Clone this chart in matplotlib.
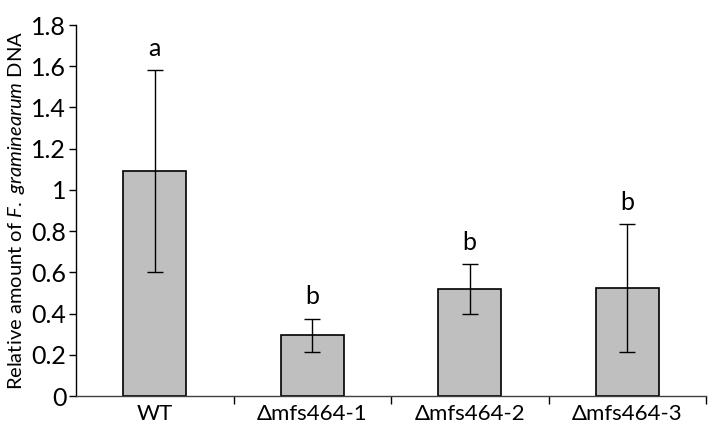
import matplotlib
matplotlib.use('Agg')
import matplotlib.pyplot as plt
import numpy as np

# values
strains = ['WT', '\u0394mfs464-1', '\u0394mfs464-2', '\u0394mfs464-3']
dna_amount = [1.09, 0.295, 0.52, 0.525]
dna_err = [0.49, 0.08, 0.12, 0.31]
letters = ['a', 'b', 'b', 'b']
yticks = [0, 0.2, 0.4, 0.6, 0.8, 1, 1.2, 1.4, 1.6, 1.8]
ytick_labels = ['0', '0.2', '0.4', '0.6', '0.8', '1', '1.2', '1.4', '1.6', '1.8']

plt.rcParams['font.family'] = ['Lato', 'DejaVu Sans']
plt.rcParams['mathtext.fontset'] = 'custom'
plt.rcParams['mathtext.rm'] = 'Lato'
plt.rcParams['mathtext.it'] = 'Lato:italic'

fig = plt.figure(figsize=(7.09, 4.38), dpi=100)
ax = fig.add_axes([76 / 709, 42 / 438, 630 / 709, 371 / 438])

x = np.arange(len(strains))
ax.bar(x, dna_amount, width=0.4, color='#bfbfbf', edgecolor='black', linewidth=1.2, zorder=2)
ax.errorbar(x, dna_amount, yerr=dna_err, fmt='none', ecolor='black', elinewidth=1.0,
            capsize=6, capthick=1.0, zorder=3)

# significance letters above the error bars
for xi, v, e, lab in zip(x, dna_amount, dna_err, letters):
    ax.text(xi, v + e + 0.05, lab, ha='center', va='bottom', fontsize=18)

ax.set_xlim(-0.5, len(strains) - 0.5)
ax.set_ylim(0, 1.8)
ax.set_yticks(yticks)
ax.set_yticklabels(ytick_labels, fontsize=18)
ax.set_xticks(x)
ax.set_xticklabels(strains, fontsize=16)
ax.tick_params(axis='x', length=0, pad=6)
ax.set_xticks(np.arange(len(strains)) + 0.5, minor=True)
ax.tick_params(axis='x', which='minor', length=6, width=1.0, direction='out')
ax.tick_params(axis='y', length=5, width=1.0, direction='out', pad=2)

ax.spines['top'].set_visible(False)
ax.spines['right'].set_visible(False)
ax.spines['left'].set_linewidth(1.0)
ax.spines['bottom'].set_linewidth(1.0)
ax.spines['bottom'].set_color('#404040')

ax.set_ylabel(r'Relative amount of $\mathit{F.\ graminearum}$ DNA', fontsize=14.5, labelpad=3)

plt.savefig('out.png', dpi=100)
